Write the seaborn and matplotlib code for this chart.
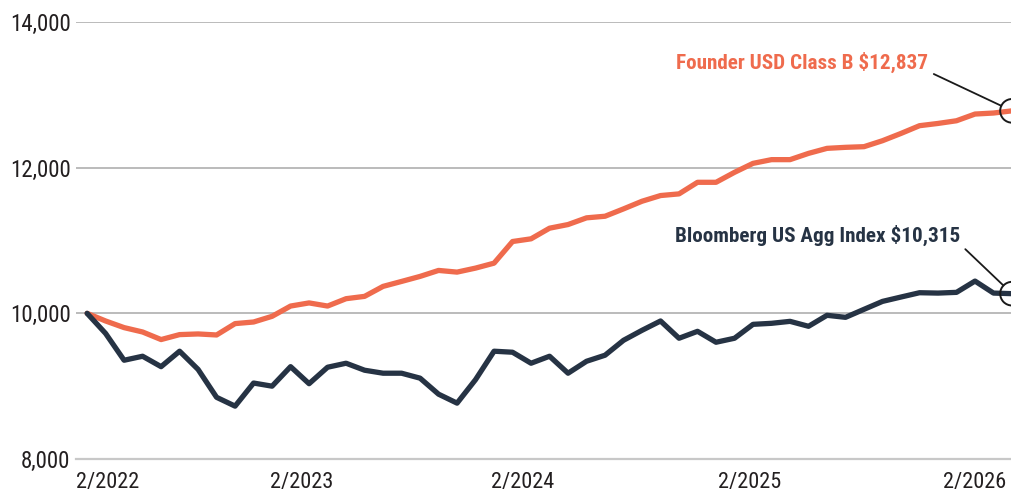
"""Growth of a hypothetical $10,000 investment: Founder USD Class B vs Bloomberg US Agg."""
import matplotlib
matplotlib.use('Agg')
import matplotlib.pyplot as plt
from matplotlib import font_manager
import numpy as np
import pandas as pd
import seaborn as sns

# Monthly values (first point = 2/2022)
founder = [10000, 9895, 9804, 9744, 9640, 9708, 9717, 9703, 9859, 9881,
           9959, 10100, 10143, 10100, 10201, 10233, 10370, 10438, 10507, 10589,
           10566, 10621, 10689, 10986, 11023, 11169, 11219, 11311, 11333, 11434,
           11539, 11617, 11640, 11799, 11799, 11936, 12059, 12110, 12110, 12196,
           12265, 12279, 12288, 12370, 12470, 12576, 12607, 12644, 12736, 12750,
           12780]
bloomberg = [10000, 9724, 9356, 9411, 9268, 9480, 9230, 8847, 8726, 9043,
             9000, 9268, 9034, 9260, 9315, 9219, 9178, 9178, 9110, 8890,
             8767, 9090, 9480, 9466, 9315, 9411, 9178, 9342, 9425, 9630,
             9767, 9895, 9658, 9753, 9603, 9658, 9849, 9863, 9890, 9822,
             9973, 9945, 10055, 10164, 10224, 10283, 10278, 10288, 10443, 10278,
             10270]
series_names = ['Founder USD Class B', 'Bloomberg US Agg Index']
end_labels = ['Founder USD Class B $12,837', 'Bloomberg US Agg Index $10,315']
xtick_pos = [-0.6, 11.6, 23.55, 35.8, 48.0]
xtick_labels = ['2/2022', '2/2023', '2/2024', '2/2025', '2/2026']
yticks = [8000, 10000, 12000, 14000]

ORANGE = '#EF6B4D'
NAVY = '#263344'

df = pd.DataFrame({
    'month': np.arange(len(founder)),
    series_names[0]: founder,
    series_names[1]: bloomberg,
}).melt(id_vars='month', var_name='series', value_name='value')

sns.set_style('white')
# pick a narrow face if one is around
names = {f.name for f in font_manager.fontManager.ttflist}
narrow = [n for n in ['Roboto Condensed', 'Liberation Sans Narrow',
                      'DejaVu Sans Condensed'] if n in names]
plt.rcParams['font.family'] = narrow + ['DejaVu Sans']
plt.rcParams['font.stretch'] = 'condensed'

fig = plt.figure(figsize=(10.12, 4.95), dpi=100)
ax = fig.add_axes([0.0751, 0.0727, 0.9249, 0.8829])

sns.lineplot(data=df, x='month', y='value', hue='series',
             palette={series_names[0]: ORANGE, series_names[1]: NAVY},
             linewidth=3.8, legend=False, ax=ax, zorder=3)

ax.set_xlim(-0.6, len(founder) - 1)
ax.set_ylim(8000, 14000)
ax.set_yticks(yticks)
ax.set_yticklabels([f'{v:,}' for v in yticks])
ax.set_xticks(xtick_pos)
ax.set_xticklabels(xtick_labels)
ax.get_xticklabels()[0].set_horizontalalignment('left')
ax.set_xlabel('')
ax.set_ylabel('')

# grid and axes styling
ax.yaxis.grid(True, color='#A8A8A8', linewidth=1.1)
ax.set_axisbelow(True)
for s in ['top', 'right', 'left']:
    ax.spines[s].set_visible(False)
ax.spines['bottom'].set_color('#C8C8C8')
ax.spines['bottom'].set_linewidth(1.6)
ax.tick_params(axis='y', length=0, pad=4, labelsize=16.5, labelcolor='#231F20')
ax.tick_params(axis='x', length=6, width=1.5, color='#C8C8C8', pad=3,
               labelsize=16, labelcolor='#231F20')

# end-point circles with leader lines and labels
offsets = [(-84, 48), (-52, 58)]
colors = [ORANGE, NAVY]
for vals, label, off, col in zip([founder, bloomberg], end_labels, offsets, colors):
    x_end, y_end = len(vals) - 1, vals[-1]
    ax.scatter([x_end], [y_end], s=290, facecolors='none', edgecolors='#1A1A1A',
               linewidths=1.4, zorder=5, clip_on=False)
    ax.annotate(label, xy=(x_end, y_end), xytext=off, textcoords='offset pixels',
                ha='right', va='center', fontsize=15.2, fontweight='bold',
                color=col, zorder=6,
                arrowprops=dict(arrowstyle='-', color='#1A1A1A', lw=1.3,
                                relpos=(1.0, 0.1), shrinkA=2, shrinkB=8.5))

plt.savefig('out.png', dpi=100)
plt.close()
